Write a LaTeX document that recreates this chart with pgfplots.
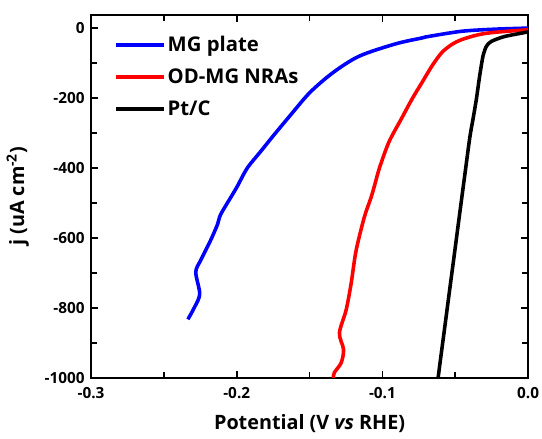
\documentclass[border=0pt]{standalone}
\usepackage{pgfplots}
\pgfplotsset{compat=1.18}
\usepackage{fontspec}
\setmainfont{Open Sans}
\begin{document}
\begin{tikzpicture}
\begin{axis}[scale only axis,width=442pt,height=367pt,
xmin=-0.3,xmax=0,ymin=-1000,ymax=37,
xtick={-0.3,-0.2,-0.1,0},xticklabels={-0.3,-0.2,-0.1,0.0},
ytick={0,-200,-400,-600,-800,-1000},yticklabels={0,-200,-400,-600,-800,-1000},
minor x tick num=1,minor y tick num=1,
tick align=inside,major tick length=7pt,minor tick length=6pt,
every tick/.style={black,line width=1.8pt},
axis line style={line width=2.6pt},
tick label style={font=\fontsize{15.5}{17}\selectfont\bfseries},
xticklabel style={yshift=-6pt},yticklabel style={xshift=-3pt},
xlabel={Potential (V \textit{vs} RHE)},
ylabel={j (uA cm\textsuperscript{-2})},
label style={font=\fontsize{20}{24}\selectfont\bfseries},
xlabel style={yshift=-9pt},ylabel style={yshift=9pt},
legend style={at={(0.047,0.952)},anchor=north west,draw=none,fill=none,
font=\fontsize{20.5}{24}\selectfont\bfseries,row sep=12pt},
legend cell align=left,
legend image code/.code={\draw[line width=3.6pt] (0pt,0pt) -- (48pt,0pt);},
]
\coordinate (top) at (rel axis cs:0,1);
\coordinate (br) at (rel axis cs:1,0);
\addplot[blue,line width=3.6pt,smooth,tension=0.5] coordinates {
(0,0) (-0.0016,-1) (-0.0231,-4) (-0.0457,-10) (-0.0686,-25) (-0.0728,-29)
(-0.0910,-46) (-0.1159,-81) (-0.1339,-128) (-0.1498,-185) (-0.1634,-251)
(-0.1746,-307) (-0.1837,-354) (-0.1928,-401) (-0.1996,-453) (-0.2043,-486)
(-0.2111,-534) (-0.2132,-562) (-0.2179,-607) (-0.2247,-664) (-0.2281,-698)
(-0.2254,-760) (-0.2288,-797) (-0.2335,-833)};
\addlegendentry{MG plate}
\addplot[red,line width=3.6pt,smooth,tension=0.5] coordinates {
(0,-5) (-0.0016,-6) (-0.0231,-13) (-0.0344,-20) (-0.0457,-34) (-0.0525,-48)
(-0.0593,-71) (-0.0660,-109) (-0.0728,-156) (-0.0796,-203) (-0.0870,-260)
(-0.0955,-326) (-0.1020,-400) (-0.1055,-452) (-0.1079,-486) (-0.1125,-542)
(-0.1181,-637) (-0.1215,-731) (-0.1249,-806) (-0.1295,-872) (-0.1267,-919)
(-0.1283,-957) (-0.1330,-985) (-0.1337,-1000)};
\addlegendentry{OD-MG NRAs}
\addplot[black,line width=3.6pt,smooth,tension=0.4] coordinates {
(0,-12) (-0.0016,-13) (-0.0163,-25) (-0.0253,-39) (-0.0287,-53) (-0.0310,-81)
(-0.0333,-138) (-0.0355,-203) (-0.0378,-260) (-0.0400,-312) (-0.0434,-418)
(-0.0468,-525) (-0.0502,-633) (-0.0536,-740) (-0.0570,-848) (-0.0604,-955)
(-0.0616,-994) (-0.0618,-1000)};
\addlegendentry{Pt/C}
\end{axis}
\pgfresetboundingbox
\path (top) ++(-92pt,15pt) coordinate (tl);
\path (br) ++(14pt,-61pt) coordinate (bb);
\useasboundingbox (tl) rectangle (bb);
\end{tikzpicture}
\end{document}
